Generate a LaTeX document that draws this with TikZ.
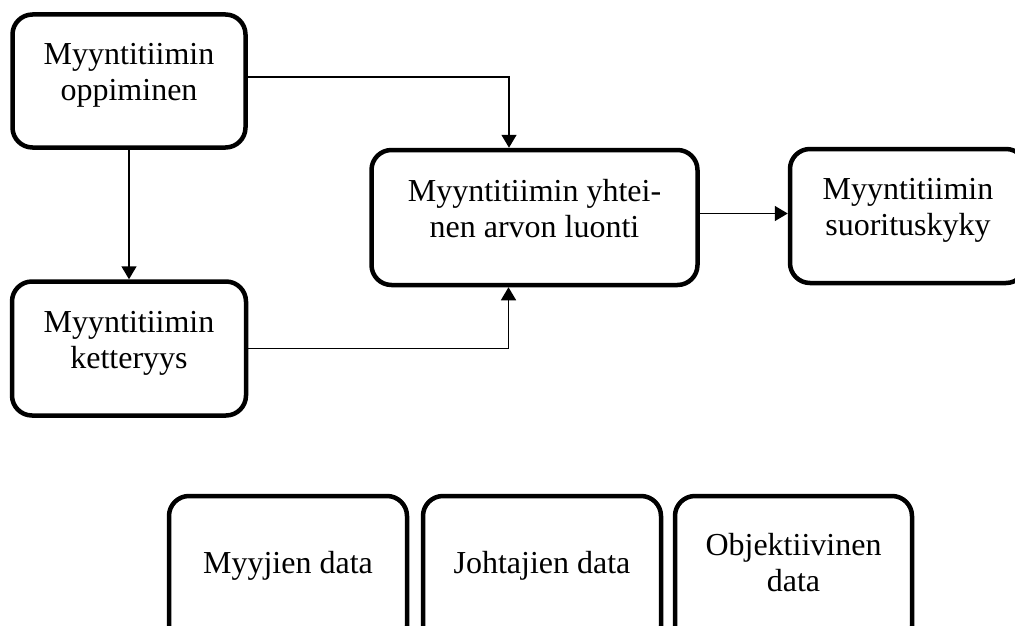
\documentclass[tikz,border=0pt]{standalone}
\usepackage{fontspec}
\setmainfont{Liberation Serif}
\usepackage{tikz}
\usetikzlibrary{arrows.meta, positioning}

\begin{document}
\begin{tikzpicture}[x=1pt, y=-1pt,
        box/.style={draw, line width=4.5pt, rounded corners=20pt, align=center, inner sep=0pt,
            font=\fontsize{32}{36}\selectfont, execute at end node={\rule[-18pt]{0pt}{0pt}}},
        arr/.style={line width=1.5pt, -{Triangle[width=15pt, length=13pt]}}]
                    \useasboundingbox (0, 0) rectangle (1015, 626);
                    \clip (0, 0) rectangle (1015, 626);

                    \node[box, minimum width=233pt, minimum height=133pt] (learn) at (129, 81) {Myyntitiimin\\oppiminen};
                    \node[box, minimum width=234pt, minimum height=134pt] (agile) at (129, 348.5) {Myyntitiimin\\ketteryys};
                    \node[box, minimum width=326pt, minimum height=135pt] (value) at (534.5, 217.5) {Myyntitiimin yhtei-\\nen arvon luonti};
                    \node[box, minimum width=236pt, minimum height=134pt] (perf) at (908, 216) {Myyntitiimin\\suorituskyky};

                    \node[box, minimum width=238pt, minimum height=150pt] (sellers) at (288, 571) {Myyjien data};
                    \node[box, minimum width=238pt, minimum height=150pt] (managers) at (542, 571) {Johtajien data};
                    \node[box, minimum width=237pt, minimum height=150pt] (objective) at (793.5, 571) {Objektiivinen\\data};

                    \draw[arr] (learn) -- (agile);
                    \draw[arr] ([yshift=4pt]learn.east) -| ([xshift=-25.5pt]value.north);
                    \draw[arr] (agile.east) -| ([xshift=-26pt]value.south);
                    \draw[arr] ([yshift=4pt]value.east) -- ([yshift=4pt]value.east -| perf.west);
                \end{tikzpicture}
\end{document}
